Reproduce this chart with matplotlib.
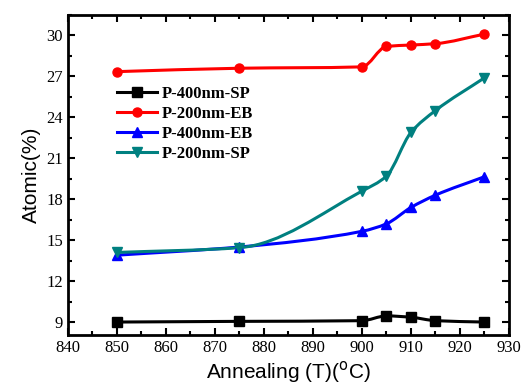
import matplotlib
matplotlib.use("Agg")
import matplotlib.pyplot as plt
from matplotlib.path import Path
from matplotlib.patches import PathPatch
from matplotlib.ticker import MultipleLocator
import numpy as np

temps = [850, 875, 900, 905, 910, 915, 925]
p400_sp = [9.0, 9.05, 9.1, 9.45, 9.35, 9.1, 9.0]
p200_eb = [27.35, 27.6, 27.7, 29.2, 29.3, 29.4, 30.1]
p400_eb = [13.9, 14.5, 15.65, 16.2, 17.4, 18.3, 19.65]
p200_sp = [14.1, 14.45, 18.6, 19.7, 22.9, 24.5, 26.9]

series = [
    ("P-400nm-SP", p400_sp, "black", "s"),
    ("P-200nm-EB", p200_eb, "#ff0000", "o"),
    ("P-400nm-EB", p400_eb, "#0000ff", "^"),
    ("P-200nm-SP", p200_sp, "#008080", "v"),
]


def smooth_path(xs, ys):
    # monotone cubic (fritsch-carlson) tangents, drawn as bezier segments
    x = np.asarray(xs, float)
    y = np.asarray(ys, float)
    h = np.diff(x)
    d = np.diff(y) / h
    m = np.zeros_like(y)
    m[0], m[-1] = d[0], d[-1]
    for i in range(1, len(y) - 1):
        if d[i - 1] * d[i] <= 0:
            m[i] = 0.0
        else:
            w1 = 2 * h[i] + h[i - 1]
            w2 = h[i] + 2 * h[i - 1]
            m[i] = (w1 + w2) / (w1 / d[i - 1] + w2 / d[i])
    verts = [(x[0], y[0])]
    codes = [Path.MOVETO]
    for i in range(len(x) - 1):
        verts += [(x[i] + h[i] / 3, y[i] + m[i] * h[i] / 3),
                  (x[i + 1] - h[i] / 3, y[i + 1] - m[i + 1] * h[i] / 3),
                  (x[i + 1], y[i + 1])]
        codes += [Path.CURVE4] * 3
    return Path(verts, codes)


fig = plt.figure(figsize=(5.25, 3.89), dpi=100)
ax = fig.add_axes([0.1295, 0.1388, 0.84, 0.8226])

for name, vals, col, mk in series:
    ax.add_patch(PathPatch(smooth_path(temps, vals), facecolor="none",
                           edgecolor=col, lw=2.2, zorder=2))
    ax.plot(temps, vals, linestyle="none", marker=mk, color=col,
            markersize=6.5, zorder=3)
    # proxy line for legend
    ax.plot([], [], "-", marker=mk, color=col, lw=2.2, markersize=6.5, label=name)

ax.set_xlim(840, 930)
ax.set_ylim(8.05, 31.5)
ax.xaxis.set_major_locator(MultipleLocator(10))
ax.xaxis.set_minor_locator(MultipleLocator(5))
ax.yaxis.set_major_locator(MultipleLocator(3))
ax.yaxis.set_minor_locator(MultipleLocator(1.5))
ax.tick_params(which="both", direction="in", top=True, right=True, width=1.5)
ax.tick_params(which="major", length=5)
ax.tick_params(which="minor", length=3)
for sp in ax.spines.values():
    sp.set_linewidth(2)

for lab in ax.get_xticklabels() + ax.get_yticklabels():
    lab.set_family("Liberation Serif")
    lab.set_fontsize(12)

ax.set_xlabel("Annealing (T)($^{\\rm o}$C)", family="Liberation Sans", fontsize=15,
              labelpad=2)
ax.set_ylabel("Atomic(%)", family="Liberation Sans", fontsize=15, labelpad=4)

leg = ax.legend(loc="upper left", bbox_to_anchor=(0.095, 0.8), frameon=False,
                prop={"family": "Liberation Serif", "weight": "bold", "size": 12},
                handlelength=2.4, handletextpad=0.3, labelspacing=0.25,
                borderaxespad=0)

fig.savefig("out.png", dpi=100)
